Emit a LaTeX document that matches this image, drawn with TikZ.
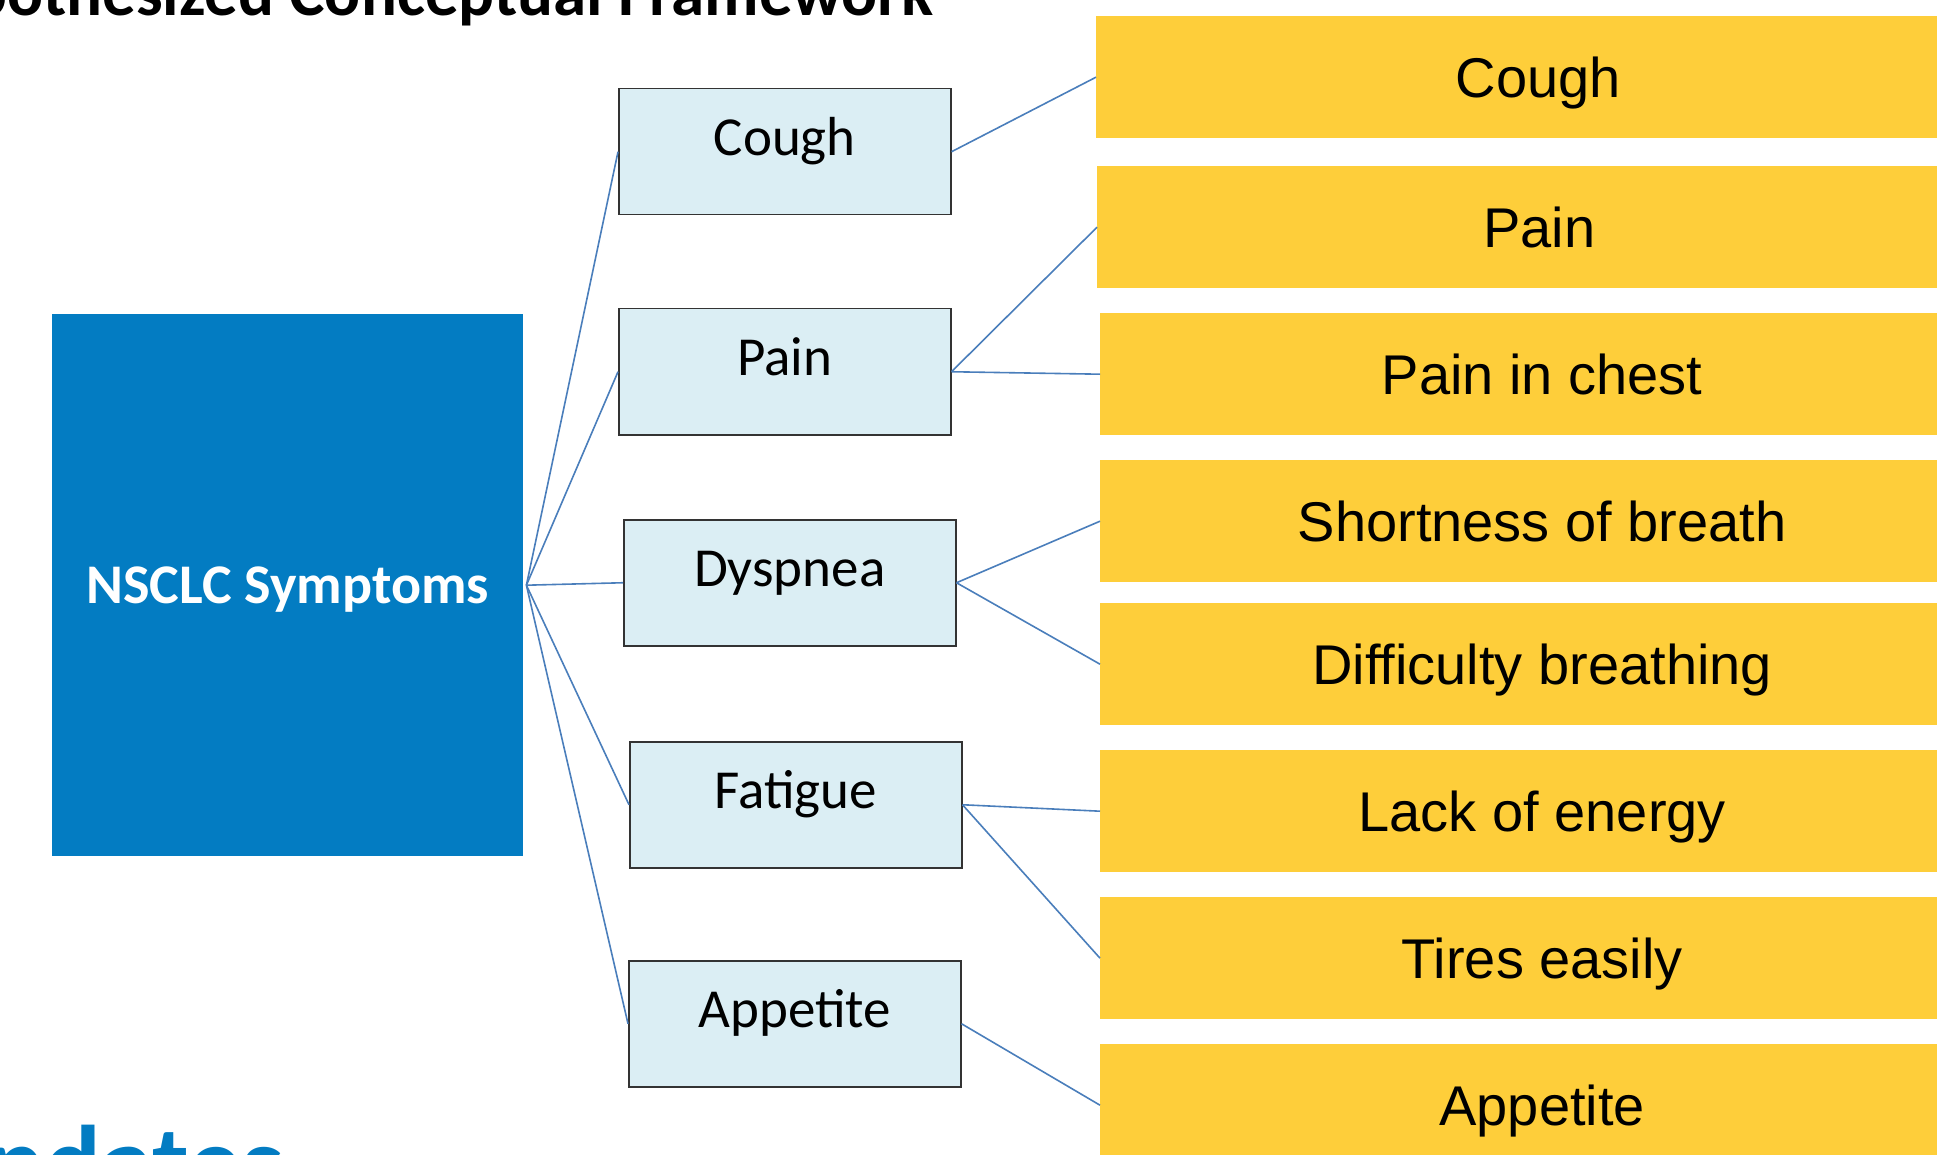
\documentclass[tikz,border=0pt]{standalone}
\usepackage{fontspec}
\setmainfont{Carlito}
\newfontfamily\arialf{Liberation Sans}
\definecolor{nsblue}{RGB}{3,124,194}
\definecolor{midfill}{RGB}{219,238,244}
\definecolor{ylw}{RGB}{254,206,58}
\definecolor{lineblue}{RGB}{74,126,187}
\begin{document}
\begin{tikzpicture}[x=1pt,y=-1pt,
  mainbox/.style={fill=nsblue, minimum width=471pt, minimum height=542pt, inner sep=0pt, anchor=north west,
    text=white, font=\bfseries\fontsize{56}{60}\selectfont, text height=36pt, text depth=0pt},
  midbox/.style={draw=black!80, line width=1.5pt, fill=midfill, minimum width=332pt, minimum height=126pt,
    inner sep=0pt, anchor=north west, font=\fontsize{55}{60}\selectfont, text height=40pt, text depth=32pt},
  ybox/.style={fill=ylw, minimum width=884pt, minimum height=122pt, inner sep=0pt, anchor=north west,
    font=\arialf\fontsize{56}{60}\selectfont, text height=40pt, text depth=0pt},
  link/.style={draw=lineblue, line width=1.6pt}]
\useasboundingbox (0,0) rectangle (1937,1155);
\clip (0,0) rectangle (1937,1155);

% title and logo text (cut by the page edge, as in the reference)
\node[anchor=base west, inner sep=0pt, font=\bfseries\fontsize{67}{70}\selectfont] (title) at (-103,16) {Hypothesized Conceptual Framework};
\node[anchor=base west, inner sep=0pt, text=nsblue, font=\bfseries\fontsize{106}{106}\selectfont] (logo) at (-82,1199) {Updates};

% main box
\node[mainbox] (nsclc) at (52,314) {NSCLC Symptoms};
\coordinate (hub) at ([xshift=3pt]nsclc.east);

% middle boxes
\node[midbox] (mcough) at (618,88) {Cough};
\node[midbox] (mpain) at (618,308) {Pain};
\node[midbox] (mdysp) at (623,519) {Dyspnea};
\node[midbox] (mfat) at (629,741) {Fatigue};
\node[midbox] (mapp) at (628,960) {Appetite};

% yellow boxes
\node[ybox] (ycough) at (1096,16) {Cough};
\node[ybox] (ypain) at (1097,166) {Pain};
\node[ybox] (ychest) at (1100,313) {Pain in chest};
\node[ybox] (ysob) at (1100,460) {Shortness of breath};
\node[ybox] (ydiff) at (1100,603) {Difficulty breathing};
\node[ybox] (ylack) at (1100,750) {Lack of energy};
\node[ybox] (ytire) at (1100,897) {Tires easily};
\node[ybox] (yapp) at (1100,1044) {Appetite};

% connectors
\draw[link] (hub) -- (mcough.west);
\draw[link] (hub) -- (mpain.west);
\draw[link] (hub) -- (mdysp.west);
\draw[link] (hub) -- (mfat.west);
\draw[link] (hub) -- (mapp.west);
\draw[link] (mcough.east) -- (ycough.west);
\draw[link] (mpain.east) -- (ypain.west);
\draw[link] (mpain.east) -- (ychest.west);
\draw[link] (mdysp.east) -- (ysob.west);
\draw[link] (mdysp.east) -- (ydiff.west);
\draw[link] (mfat.east) -- (ylack.west);
\draw[link] (mfat.east) -- (ytire.west);
\draw[link] (mapp.east) -- (yapp.west);
\end{tikzpicture}
\end{document}
